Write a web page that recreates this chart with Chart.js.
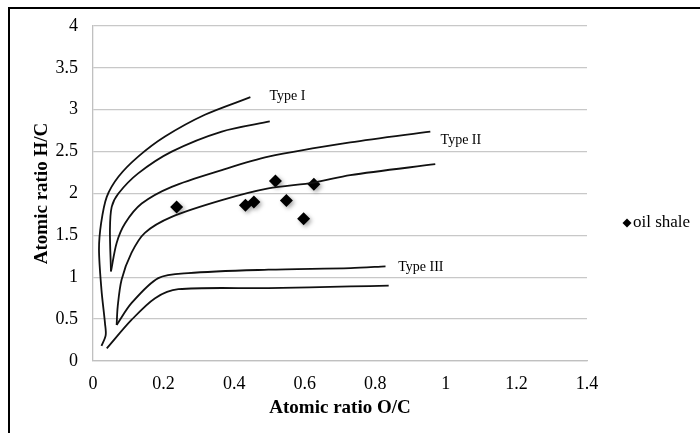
<!DOCTYPE html>
<html><head><meta charset="utf-8">
<script src="https://cdn.jsdelivr.net/npm/chart.js@4"></script>
<style>html,body{margin:0;padding:0;background:#fff;}#wrap{width:700px;height:433px;}</style>
</head><body><div id="wrap"><canvas id="c" width="700" height="433"></canvas></div>
<script>
// Van Krevelen curves, [O/C, H/C]
const typeIOuter = [[0.024,0.18],[0.036,0.31],[0.034,0.45],[0.024,0.85],[0.017,1.33],[0.023,1.645],[0.039,1.96],[0.072,2.20],[0.128,2.44],[0.204,2.68],[0.317,2.94],[0.446,3.15]];
const typeIInner = [[0.051,1.07],[0.048,1.565],[0.053,1.84],[0.072,2.00],[0.128,2.24],[0.223,2.50],[0.365,2.74],[0.501,2.86]];
const typeIIUpper = [[0.051,1.07],[0.067,1.41],[0.091,1.645],[0.138,1.88],[0.223,2.08],[0.365,2.28],[0.497,2.44],[0.729,2.61],[0.956,2.74]];
const typeIILower = [[0.067,0.43],[0.070,0.65],[0.081,0.97],[0.109,1.29],[0.147,1.53],[0.223,1.72],[0.365,1.92],[0.497,2.06],[0.626,2.13],[0.729,2.22],[0.970,2.35]];
const typeIIIUpper = [[0.067,0.43],[0.109,0.69],[0.185,0.99],[0.27,1.05],[0.497,1.09],[0.73,1.11],[0.829,1.13]];
const typeIIILower = [[0.039,0.15],[0.109,0.49],[0.176,0.75],[0.242,0.857],[0.497,0.87],[0.73,0.89],[0.838,0.90]];
// oil shale samples
const shaleOC = [0.237,0.432,0.456,0.517,0.548,0.597,0.626];
const shaleHC = [1.84,1.86,1.90,2.15,1.915,1.70,2.11];
// curve labels
const typeLabels = ['Type I','Type II','Type III'];
const typeLabelX = [0.50,0.985,0.865];
const typeLabelY = [3.16,2.63,1.12];
const xTicks = ['0','0.2','0.4','0.6','0.8','1','1.2','1.4'];
const yTicks = ['0','0.5','1','1.5','2','2.5','3','3.5','4'];
const legendLabel = 'oil shale';

const SERIF = "'Times New Roman', 'Liberation Serif', serif";
const toPts = a => a.map(p => ({x:p[0], y:p[1]}));
const curve = d => ({data: toPts(d), showLine:true, borderColor:'#111', borderWidth:1.8, pointRadius:0, tension:0.3, fill:false});

const framePlugin = {
  id:'frame',
  beforeDraw(chart){
    const ctx = chart.ctx; ctx.save();
    ctx.strokeStyle = '#000'; ctx.lineWidth = 2;
    ctx.beginPath(); ctx.moveTo(9,433); ctx.lineTo(9,8); ctx.lineTo(700,8); ctx.stroke();
    ctx.restore();
  },
  beforeDatasetDraw(chart, args){
    if (args.index === 6) { chart.ctx.save(); chart.ctx.shadowColor='rgba(0,0,0,0.35)'; chart.ctx.shadowBlur=4; chart.ctx.shadowOffsetX=2; chart.ctx.shadowOffsetY=2; }
  },
  afterDatasetDraw(chart, args){ if (args.index === 6) chart.ctx.restore(); },
  afterDraw(chart){
    const ctx = chart.ctx, xs = chart.scales.x, ys = chart.scales.y;
    ctx.save();
    ctx.fillStyle = '#000'; ctx.textBaseline = 'middle'; ctx.textAlign = 'left';
    ctx.font = '14px ' + SERIF;
    typeLabels.forEach((t,i) => ctx.fillText(t, xs.getPixelForValue(typeLabelX[i]), ys.getPixelForValue(typeLabelY[i])));
    // legend
    const lx = 627, ly = 223, r = 4.5;
    ctx.beginPath(); ctx.moveTo(lx, ly-r); ctx.lineTo(lx+r, ly); ctx.lineTo(lx, ly+r); ctx.lineTo(lx-r, ly); ctx.closePath(); ctx.fill();
    ctx.font = '17px ' + SERIF;
    ctx.fillText(legendLabel, 633, ly);
    ctx.restore();
  }
};

new Chart(document.getElementById('c'), {
  type:'scatter',
  data:{datasets:[
    curve(typeIOuter), curve(typeIInner), curve(typeIIUpper), curve(typeIILower), curve(typeIIIUpper), curve(typeIIILower),
    {label:legendLabel, data: shaleOC.map((x,i)=>({x, y:shaleHC[i]})), pointStyle:'rectRot', pointRadius:6.5, pointHoverRadius:6.5, backgroundColor:'#000', borderColor:'#000', borderWidth:0, showLine:false}
  ]},
  options:{
    responsive:false, animation:false, devicePixelRatio:1,
    layout:{padding:{top:26, right:113, left:0, bottom:0}},
    plugins:{legend:{display:false}, tooltip:{enabled:false}},
    scales:{
      x:{type:'linear', min:0, max:1.4,
        afterBuildTicks(s){ s.ticks = xTicks.map(v => ({value: parseFloat(v)})); },
        afterFit(s){ s.height = 72; },
        ticks:{callback:(v,i)=>xTicks[i], font:{family:SERIF, size:18}, color:'#000', padding:12, maxRotation:0},
        grid:{display:false, drawTicks:false},
        border:{display:true, color:'#c0c0c0', width:1.3},
        title:{display:true, text:'Atomic ratio O/C', font:{family:SERIF, size:19, weight:'bold'}, color:'#000', padding:{top:0,bottom:14}}
      },
      y:{type:'linear', min:0, max:4,
        afterBuildTicks(s){ s.ticks = yTicks.map(v => ({value: parseFloat(v)})); },
        afterFit(s){ s.width = 93; },
        ticks:{callback:(v,i)=>yTicks[i], font:{family:SERIF, size:18}, color:'#000', padding:15},
        grid:{color:'#c8c8c8', lineWidth:1.3, drawTicks:false},
        border:{display:true, color:'#c0c0c0', width:1.3},
        title:{display:true, text:'Atomic ratio H/C', font:{family:SERIF, size:19, weight:'bold'}, color:'#000', padding:{top:31,bottom:0}}
      }
    }
  },
  plugins:[framePlugin]
});
</script></body></html>
